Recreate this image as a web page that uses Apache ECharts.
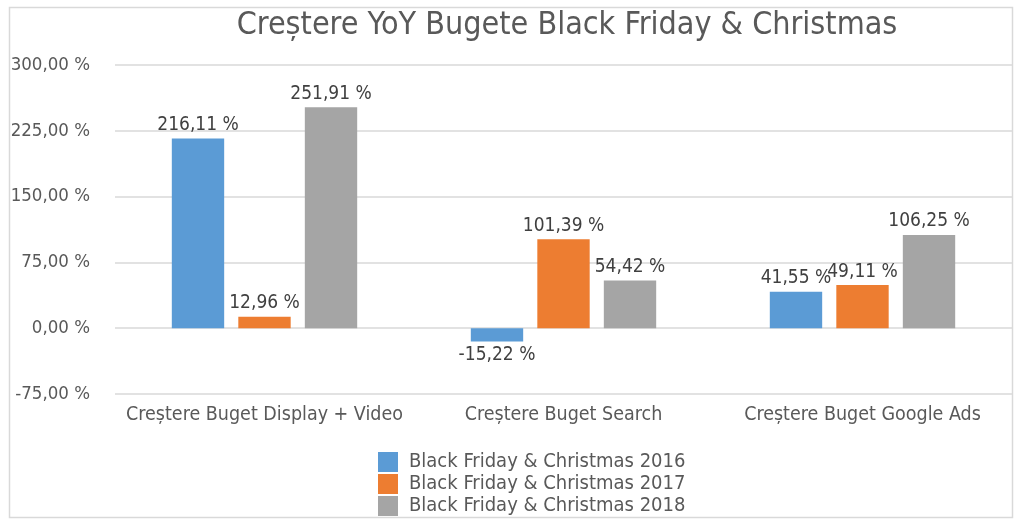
<!DOCTYPE html>
<html><head><meta charset="utf-8">
<script src="https://cdn.jsdelivr.net/npm/echarts@6/dist/echarts.min.js"></script>
<style>html,body{margin:0;padding:0;background:#fff}#c{width:1024px;height:528px}</style>
</head><body><div id="c"></div>
<script>
var categories = ['Creștere Buget Display + Video', 'Creștere Buget Search', 'Creștere Buget Google Ads'];
var seriesNames = ['Black Friday & Christmas 2016', 'Black Friday & Christmas 2017', 'Black Friday & Christmas 2018'];
var values2016 = [216.11, -15.22, 41.55];
var values2017 = [12.96, 101.39, 49.11];
var values2018 = [251.91, 54.42, 106.25];
var colors = ['#5B9BD5', '#ED7D31', '#A5A5A5'];
var FONT = 'DejaVu Sans Condensed, DejaVu Sans, sans-serif';
function fmt(v){ return v.toFixed(2).replace('.', ',') + ' %'; }
var chart = echarts.init(document.getElementById('c'));
var data = [values2016, values2017, values2018];
chart.setOption({
  animation: false,
  textStyle: {fontFamily: FONT, color: '#595959'},
  graphic: [{type:'rect', shape:{x:9.5,y:7.5,width:1003,height:510}, style:{fill:'none', stroke:'#D9D9D9', lineWidth:1.5}, silent:true, z: 100}],
  title: {text: 'Creștere YoY Bugete Black Friday & Christmas', left: 562, textAlign: 'center', top: 5,
    textStyle: {fontFamily: FONT, fontSize: 32, fontWeight: 'normal', color: '#595959'}},
  legend: {orient: 'vertical', left: 373, top: 447, itemWidth: 20, itemHeight: 20, itemGap: 2,
    textStyle: {fontFamily: FONT, fontSize: 20, color: '#595959', padding: [0, 0, 0, 6]}, icon: 'rect', data: seriesNames},
  grid: {left: 115, right: 12, top: 65, bottom: 134, containLabel: false},
  xAxis: {type: 'category', data: categories, axisLine: {show: false}, axisTick: {show: false},
    axisLabel: {interval: 0, fontSize: 19.5, color: '#595959', margin: 11, fontFamily: FONT}},
  yAxis: {type: 'value', min: -75, max: 300, interval: 75,
    axisLine: {show: false}, axisTick: {show: false},
    splitLine: {lineStyle: {color: '#D9D9D9', width: 1.5}},
    axisLabel: {formatter: fmt, fontSize: 18.5, color: '#595959', margin: 25, fontFamily: FONT}},
  series: data.map(function(d, i){
    return {name: seriesNames[i], type: 'bar', barGap: '27%', barCategoryGap: '38%',
      itemStyle: {color: colors[i]},
      data: d.map(function(v){ return v < 0 ? {value: v, label: {position: 'bottom'}} : v; }),
      label: {show: true, position: 'top', distance: 4, formatter: function(p){ return fmt(p.value); },
        fontSize: 19, color: '#404040', fontFamily: FONT}};
  })
});
</script></body></html>
